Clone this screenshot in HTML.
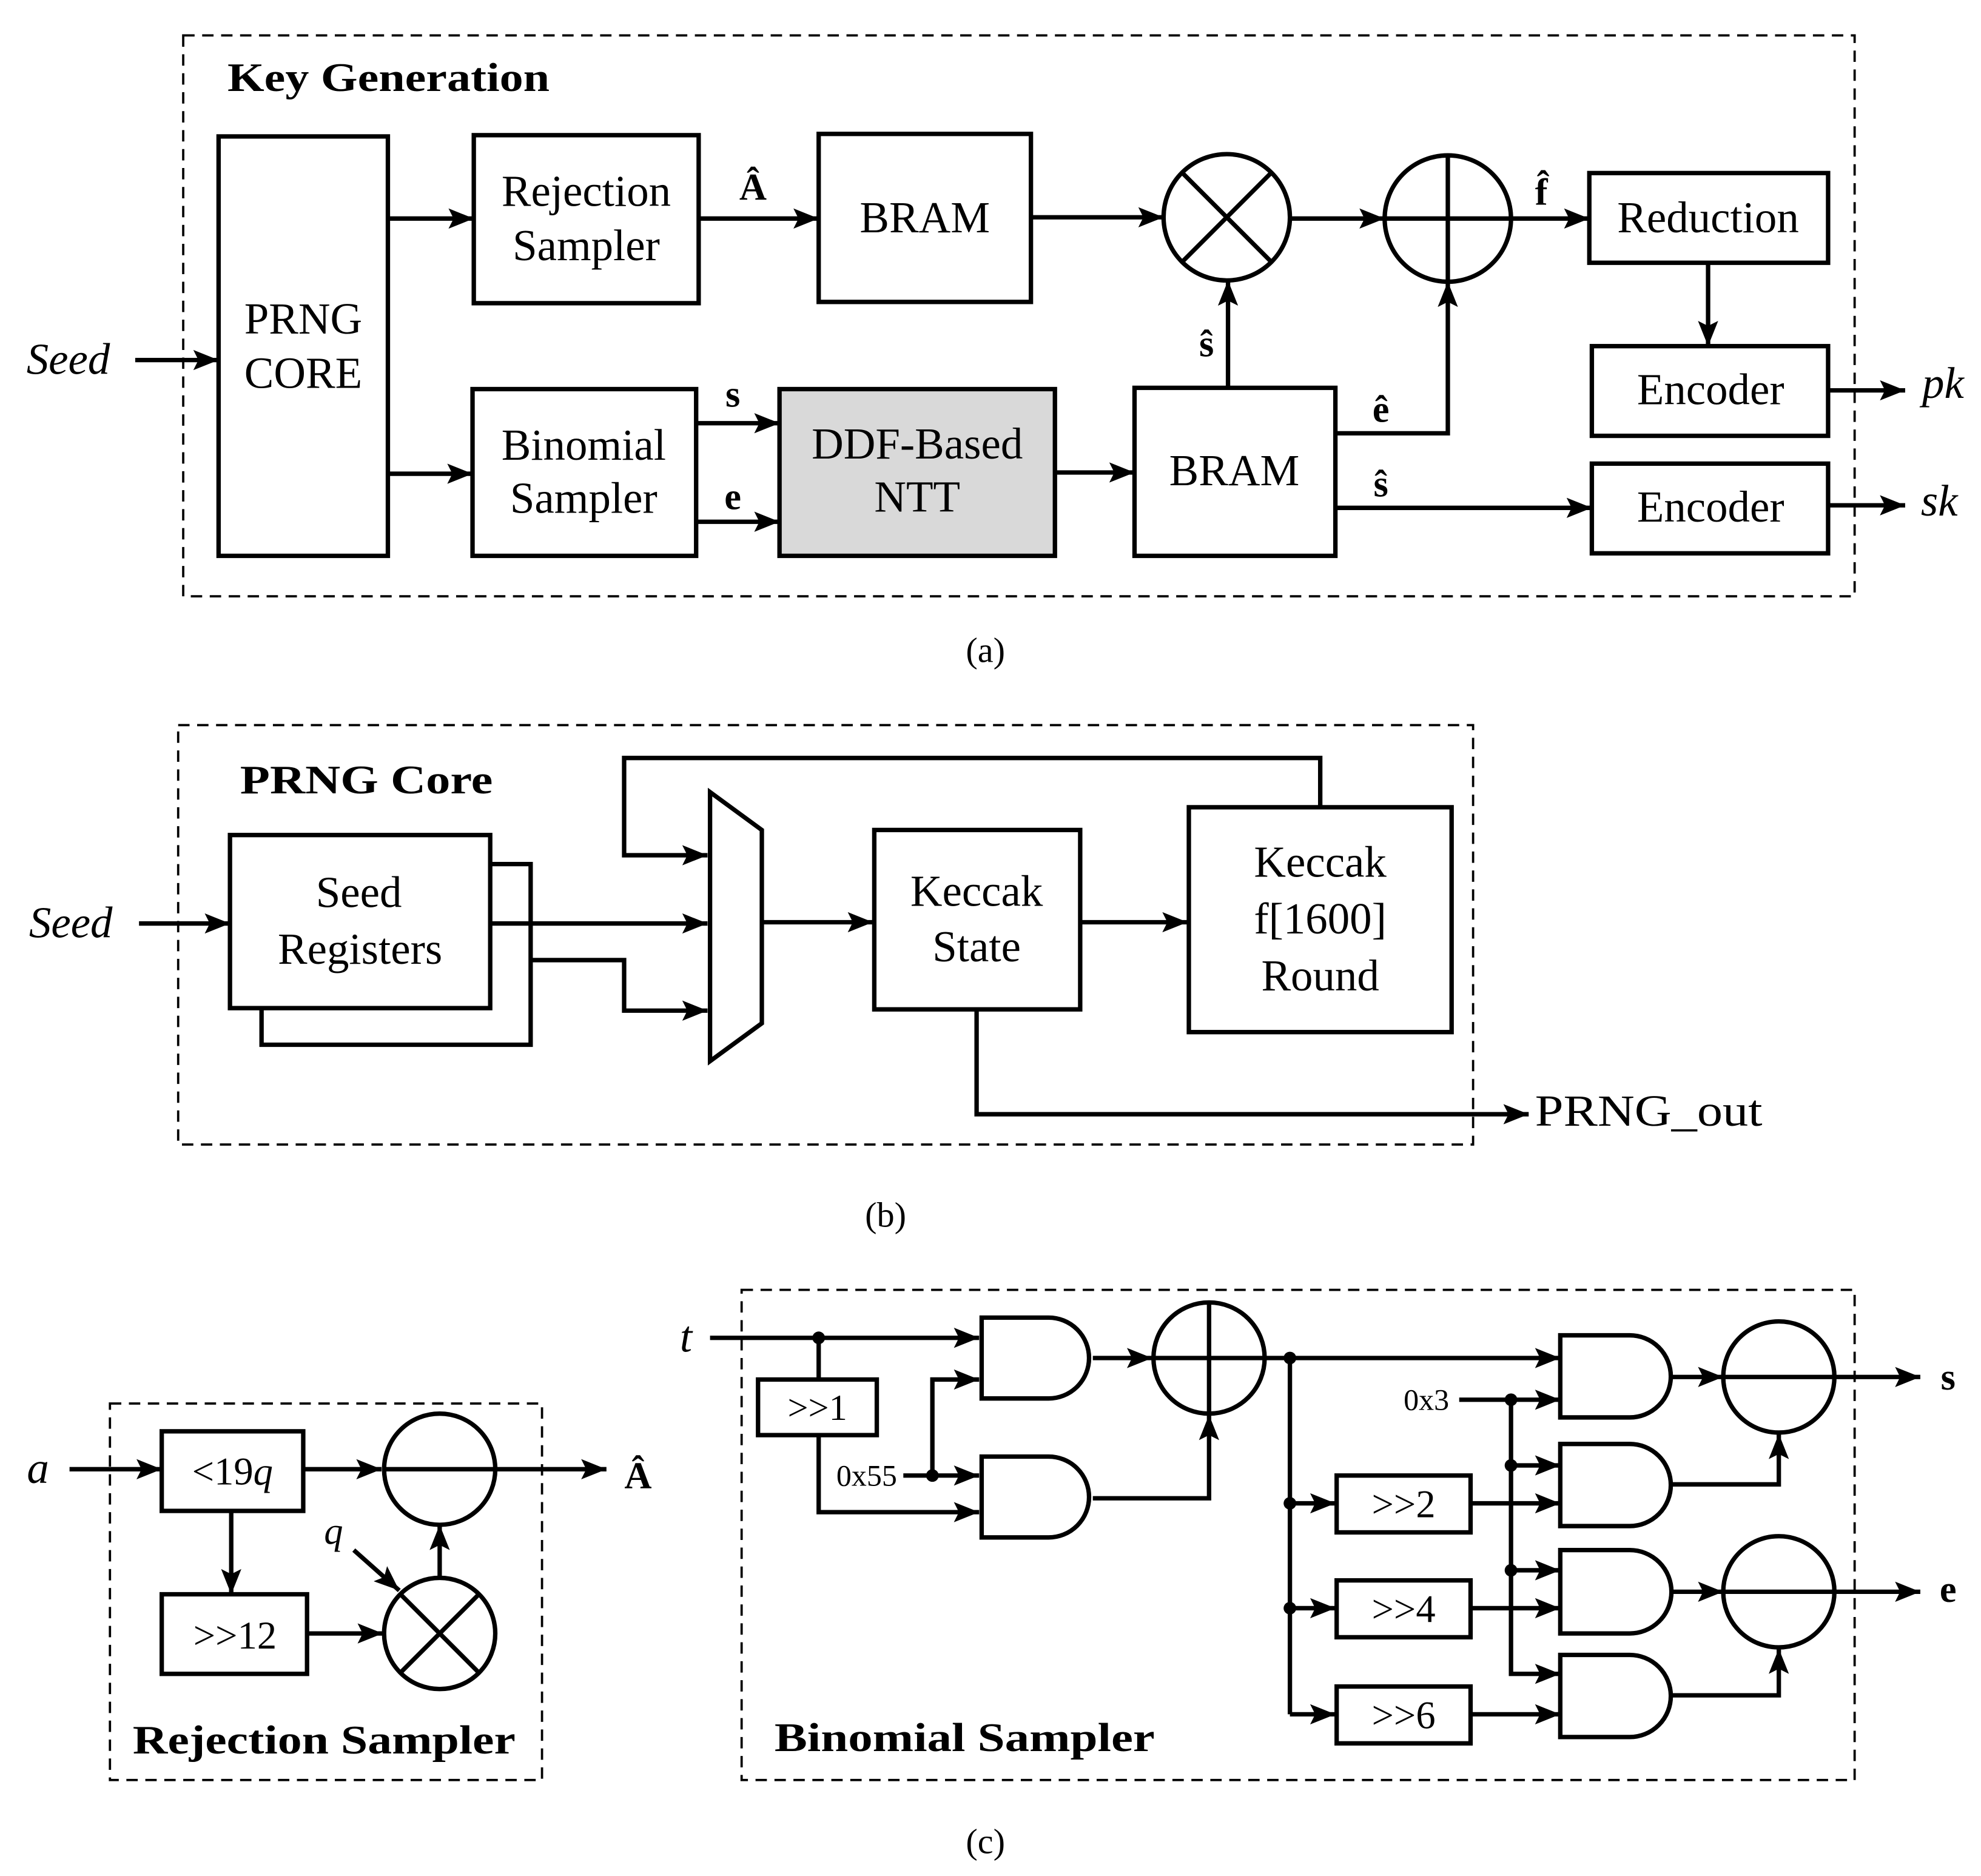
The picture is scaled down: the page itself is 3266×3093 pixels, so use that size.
<!DOCTYPE html>
<html><head><meta charset="utf-8"><style>html,body{margin:0;padding:0;background:#fff}svg{display:block}</style></head>
<body>
<svg width="3266" height="3093" viewBox="0 0 1568 1485" xmlns="http://www.w3.org/2000/svg" font-family="'Liberation Serif', serif">
<defs>
<marker id="A" viewBox="0 0 10 10" refX="10" refY="5" markerWidth="20" markerHeight="16" orient="auto" markerUnits="userSpaceOnUse" preserveAspectRatio="none"><path d="M0,0 L10,5 L0,10 L2,5 z" fill="#000"/></marker></defs>
<g fill="none" stroke="#000" stroke-width="3.5">
<rect x="145" y="28" width="1323" height="444" stroke-width="1.8" stroke-dasharray="9,6"/>
<rect x="173" y="108" width="134" height="332"/>
<rect x="375" y="107" width="178" height="133"/>
<rect x="374" y="308" width="177" height="132"/>
<rect x="648" y="106" width="168" height="133"/>
<rect x="617" y="308" width="218" height="132" fill="#d9d9d9"/>
<rect x="898" y="307" width="159" height="133"/>
<rect x="1258" y="137" width="189" height="71"/>
<rect x="1260" y="274" width="187" height="71"/>
<rect x="1260" y="367" width="187" height="71"/>
<circle cx="971" cy="172" r="50"/><path d="M936,137 L1006,207 M1006,137 L936,207"/>
<circle cx="1146" cy="173" r="50"/><path d="M1096,173 H1196 M1146,123 V223"/>
<g marker-end="url(#A)">
<path d="M107,285 H173"/><path d="M307,173 H375"/><path d="M307,375 H374"/>
<path d="M553,173 H648"/><path d="M816,172 H921"/><path d="M1021,173 H1096"/>
<path d="M1196,173 H1258"/><path d="M1352,208 V274"/><path d="M1447,309 H1508"/>
<path d="M551,335 H617"/><path d="M551,413 H617"/><path d="M835,374 H898"/>
<path d="M972,307 V222"/><path d="M1057,343 H1146 V223"/><path d="M1057,402 H1260"/><path d="M1447,400 H1508"/>
</g>
<rect x="141" y="574" width="1025" height="332" stroke-width="1.8" stroke-dasharray="9,6"/>
<path d="M388,684 H420 V827 H207 V798"/>
<rect x="182" y="661" width="206" height="137" fill="#fff"/>
<path d="M562,627 L603,657 L603,810 L562,840 Z"/>
<rect x="692" y="657" width="163" height="142"/>
<rect x="941" y="639" width="208" height="178"/>
<g marker-end="url(#A)">
<path d="M110,731 H182"/><path d="M388,731 H560"/><path d="M420,760 H494 V800 H560"/>
<path d="M1045,639 V600 H494 V677 H560"/><path d="M603,730 H691"/><path d="M855,730 H940"/>
<path d="M773,799 V882 H1210"/>
</g>
<rect x="87" y="1111" width="342" height="298" stroke-width="1.8" stroke-dasharray="9,6"/>
<rect x="128" y="1133" width="112" height="63"/>
<rect x="128" y="1262" width="115" height="63"/>
<circle cx="348" cy="1163" r="44"/><path d="M304,1163 H392"/>
<circle cx="348" cy="1293" r="44"/><path d="M317,1262 L379,1324 M379,1262 L317,1324"/>
<g marker-end="url(#A)">
<path d="M55,1163 H128"/><path d="M240,1163 H302"/><path d="M392,1163 H480"/>
<path d="M183,1196 V1262"/><path d="M243,1293 H303"/><path d="M280,1227 L316,1259"/><path d="M348,1249 V1207"/>
</g>
<rect x="587" y="1021" width="881" height="388" stroke-width="1.8" stroke-dasharray="9,6"/>
<rect x="600" y="1092" width="94" height="44"/>
<path d="M777,1043 H830 A32,32 0 0 1 830,1107 H777 Z"/>
<path d="M777,1153 H830 A32,32 0 0 1 830,1217 H777 Z"/>
<circle cx="957" cy="1075" r="44"/><path d="M913,1075 H1001 M957,1031 V1119"/>
<rect x="1058" y="1168" width="106" height="45"/>
<rect x="1058" y="1251" width="106" height="45"/>
<rect x="1058" y="1335" width="106" height="45"/>
<path d="M1235,1057 H1290 A32,32 0 0 1 1290,1122 H1235 Z"/>
<path d="M1235,1143 H1290 A32,32 0 0 1 1290,1208 H1235 Z"/>
<path d="M1235,1227 H1290 A32,32 0 0 1 1290,1293 H1235 Z"/>
<path d="M1235,1310 H1290 A32,32 0 0 1 1290,1375 H1235 Z"/>
<circle cx="1408" cy="1090" r="44"/><path d="M1364,1090 H1452"/>
<circle cx="1408" cy="1260" r="44"/><path d="M1364,1260 H1452"/>
<path d="M648,1059 V1092 M715,1168 H738 M1021,1075 V1357 M1155,1108 H1196"/>
<g marker-end="url(#A)">
<path d="M562,1059 H775"/><path d="M648,1136 V1197 H775"/><path d="M738,1168 V1092 H775"/><path d="M738,1168 H775"/>
<path d="M865,1075 H912"/><path d="M865,1186 H957 V1120"/>
<path d="M1001,1075 H1235"/><path d="M1021,1190 H1057"/><path d="M1021,1273 H1057"/><path d="M1021,1357 H1057"/>
<path d="M1196,1108 H1235"/><path d="M1196,1160 H1235"/><path d="M1196,1243 H1235"/><path d="M1196,1108 V1325 H1235"/>
<path d="M1164,1190 H1235"/><path d="M1164,1273 H1235"/><path d="M1164,1357 H1235"/>
<path d="M1322,1090 H1364"/><path d="M1322,1175 H1408 V1135"/><path d="M1322,1260 H1364"/><path d="M1322,1342 H1408 V1305"/>
<path d="M1452,1090 H1520"/><path d="M1452,1260 H1520"/>
</g>
</g>
<g fill="#000">
<circle cx="648" cy="1059" r="5"/><circle cx="738" cy="1168" r="5"/><circle cx="1021" cy="1075" r="5"/><circle cx="1021" cy="1190" r="5"/><circle cx="1021" cy="1273" r="5"/>
<circle cx="1196" cy="1108" r="5"/><circle cx="1196" cy="1160" r="5"/><circle cx="1196" cy="1243" r="5"/>
</g>
<g font-size="35" text-anchor="middle">
<text x="180" y="72" font-weight="bold" font-size="32" text-anchor="start" textLength="255" lengthAdjust="spacingAndGlyphs">Key Generation</text>
<text x="240" y="264">PRNG</text><text x="240" y="307">CORE</text>
<text x="464" y="163">Rejection</text><text x="464" y="206">Sampler</text>
<text x="462" y="364">Binomial</text><text x="462" y="406">Sampler</text>
<text x="732" y="184">BRAM</text>
<text x="726" y="363">DDF-Based</text><text x="726" y="405">NTT</text>
<text x="977" y="384">BRAM</text>
<text x="1352" y="184">Reduction</text>
<text x="1354" y="320">Encoder</text><text x="1354" y="413">Encoder</text>
<text x="54" y="296" font-style="italic">Seed</text>
<text x="1538" y="315" font-style="italic">pk</text><text x="1535" y="408" font-style="italic">sk</text>
<g font-weight="bold" font-size="30"><text x="596" y="158">Â</text><text x="580" y="322">s</text><text x="580" y="403">e</text>
<text x="955" y="282">ŝ</text><text x="1093" y="334">ê</text><text x="1093" y="393">ŝ</text><text x="1220" y="162">f̂</text></g>
<text x="780" y="524" font-size="28">(a)</text>
<text x="190" y="628" font-weight="bold" font-size="32" text-anchor="start" textLength="200" lengthAdjust="spacingAndGlyphs">PRNG Core</text>
<text x="56" y="742" font-style="italic">Seed</text>
<text x="284" y="718">Seed</text><text x="285" y="763">Registers</text>
<text x="773" y="717">Keccak</text><text x="773" y="761">State</text>
<text x="1045" y="694">Keccak</text><text x="1045" y="739">f[1600]</text><text x="1045" y="784">Round</text>
<text x="1215" y="891" text-anchor="start" textLength="180" lengthAdjust="spacingAndGlyphs">PRNG_out</text>
<text x="701" y="971" font-size="28">(b)</text>
<text x="30" y="1174" font-style="italic">a</text>
<text x="184" y="1175" font-size="31">&lt;19<tspan font-style="italic">q</tspan></text>
<text x="186" y="1305" font-size="31">&gt;&gt;12</text>
<text x="264" y="1222" font-style="italic" font-size="30">q</text>
<text x="505" y="1178" font-weight="bold" font-size="30">Â</text>
<text x="105" y="1388" font-weight="bold" font-size="32" text-anchor="start" textLength="303" lengthAdjust="spacingAndGlyphs">Rejection Sampler</text>
<text x="543" y="1070" font-style="italic">t</text>
<text x="647" y="1124" font-size="29">&gt;&gt;1</text>
<text x="686" y="1176" font-size="24">0x55</text>
<text x="1129" y="1116" font-size="24">0x3</text>
<text x="1111" y="1201" font-size="31">&gt;&gt;2</text>
<text x="1111" y="1284" font-size="31">&gt;&gt;4</text>
<text x="1111" y="1368" font-size="31">&gt;&gt;6</text>
<text x="1542" y="1100" font-weight="bold" font-size="30">s</text>
<text x="1542" y="1268" font-weight="bold" font-size="30">e</text>
<text x="613" y="1386" font-weight="bold" font-size="32" text-anchor="start" textLength="301" lengthAdjust="spacingAndGlyphs">Binomial Sampler</text>
<text x="780" y="1467" font-size="28">(c)</text>
</g>
</svg>
</body></html>
